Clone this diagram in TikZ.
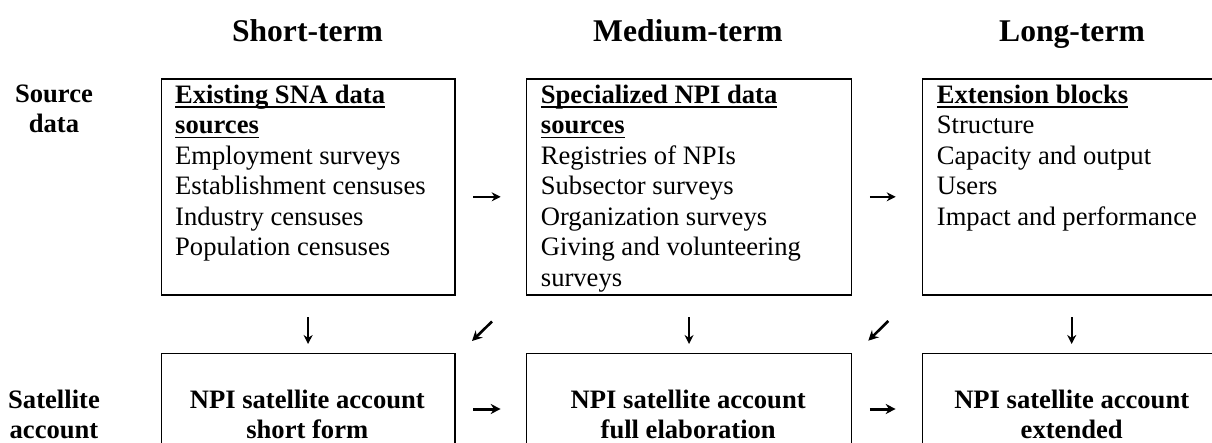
\documentclass[tikz,border=0pt]{standalone}
\usepackage{fontspec}
\setmainfont{Liberation Serif}
\usetikzlibrary{arrows.meta}

% fixed-offset underline for the block titles
\newlength\titlew
\newcommand\titleline[1]{\settowidth\titlew{\textbf{#1}}\rlap{\rule[-4.5pt]{\titlew}{1.5pt}}\textbf{#1}}

\tikzset{
  box/.style={draw, line width=1.7pt, minimum width=#1, inner sep=0pt, anchor=north west},
  listtext/.style={anchor=north west, inner sep=0pt, align=left,
    font=\fontsize{26.6}{30.5}\selectfont},
  acctext/.style={inner sep=0pt, align=center, anchor=north,
    font=\fontsize{26.6}{30.5}\selectfont\bfseries},
  rowlabel/.style={inner sep=0pt, align=center, anchor=north,
    font=\fontsize{26.6}{30.5}\selectfont\bfseries},
  header/.style={inner sep=0pt, anchor=base, font=\fontsize{31.6}{36}\selectfont\bfseries},
  thinarr/.style={line width=2pt, -{Stealth[length=9pt,width=9pt]}},
  thickarr/.style={line width=3pt, -{Stealth[length=10pt,width=10pt]}},
  diagarr/.style={line width=2.6pt, -{Stealth[length=10pt,width=10pt]}},
}

\begin{document}
\begin{tikzpicture}[x=1pt,y=-1pt]
\useasboundingbox (0,0) rectangle (1212,443);

% column headings
\node[header] (h1) at (307.5,41.5) {Short-term};
\node[header] (h2) at (688,41.5) {Medium-term};
\node[header] (h3) at (1072,41.5) {Long-term};

% row headings
\node[rowlabel] (r1) at (54,84.5) {Source\\data};
\node[rowlabel] (r2) at (54,389.5) {Satellite\\account};

% source data blocks
\node[box=293.5pt, minimum height=216pt] (s1) at (160.5,78) {};
\node[box=325pt, minimum height=216pt] (s2) at (525.7,78) {};
\node[box=300pt, minimum height=216pt] (s3) at (921.7,78) {};

\node[listtext] (s1t) at (175,84.8) {\titleline{Existing SNA data}\\\titleline{sources}\\Employment surveys\\Establishment censuses\\Industry censuses\\Population censuses};
\node[listtext] (s2t) at (540.7,84.8) {\titleline{Specialized NPI data}\\\titleline{sources}\\Registries of NPIs\\Subsector surveys\\Organization surveys\\Giving and volunteering\\surveys};
\node[listtext] (s3t) at (936.7,84.8) {\titleline{Extension blocks}\\Structure\\Capacity and output\\Users\\Impact and performance};

% satellite account blocks
\node[box=293.5pt, minimum height=120pt] (a1) at (160.5,352.5) {};
\node[box=325pt, minimum height=120pt] (a2) at (525.7,352.5) {};
\node[box=300pt, minimum height=120pt] (a3) at (921.7,352.5) {};

\node[acctext] (a1t) at (307.3,389.5) {NPI satellite account\\short form};
\node[acctext] (a2t) at (688.2,389.5) {NPI satellite account\\full elaboration};
\node[acctext] (a3t) at (1071.7,389.5) {NPI satellite account\\extended};

% arrows between source blocks
\draw[thinarr, shorten <=17.5pt, shorten >=25pt] ([yshift=-10pt]s1.east) -- ([yshift=-10pt]s2.west);
\draw[thinarr, shorten <=17.5pt, shorten >=26pt] ([yshift=-10pt]s2.east) -- ([yshift=-10pt]s3.west);

% arrows between account blocks
\draw[thickarr, shorten <=17.5pt, shorten >=25pt] ([yshift=-56.5pt]a1.north east) -- ([yshift=-56.5pt]a2.north west);
\draw[thickarr, shorten <=17.5pt, shorten >=26pt] ([yshift=-56.5pt]a2.north east) -- ([yshift=-56.5pt]a3.north west);

% downward arrows from sources to accounts
\draw[thinarr, shorten <=21.5pt, shorten >=8.5pt] (s1.south) -- (s1.south |- a1.north);
\draw[thinarr, shorten <=21.5pt, shorten >=8.5pt] (s2.south) -- (s2.south |- a2.north);
\draw[thinarr, shorten <=21.5pt, shorten >=8.5pt] (s3.south -| a3t.north) -- (a3t.north |- a3.north);

% diagonal arrows feeding the earlier account
\coordinate (d1a) at (492,321.5);
\coordinate (d1b) at (472,341);
\coordinate (d2a) at (888.3,321);
\coordinate (d2b) at (868.3,340.7);
\draw[diagarr] (d1a) -- (d1b);
\draw[diagarr] (d2a) -- (d2b);
\end{tikzpicture}
\end{document}
